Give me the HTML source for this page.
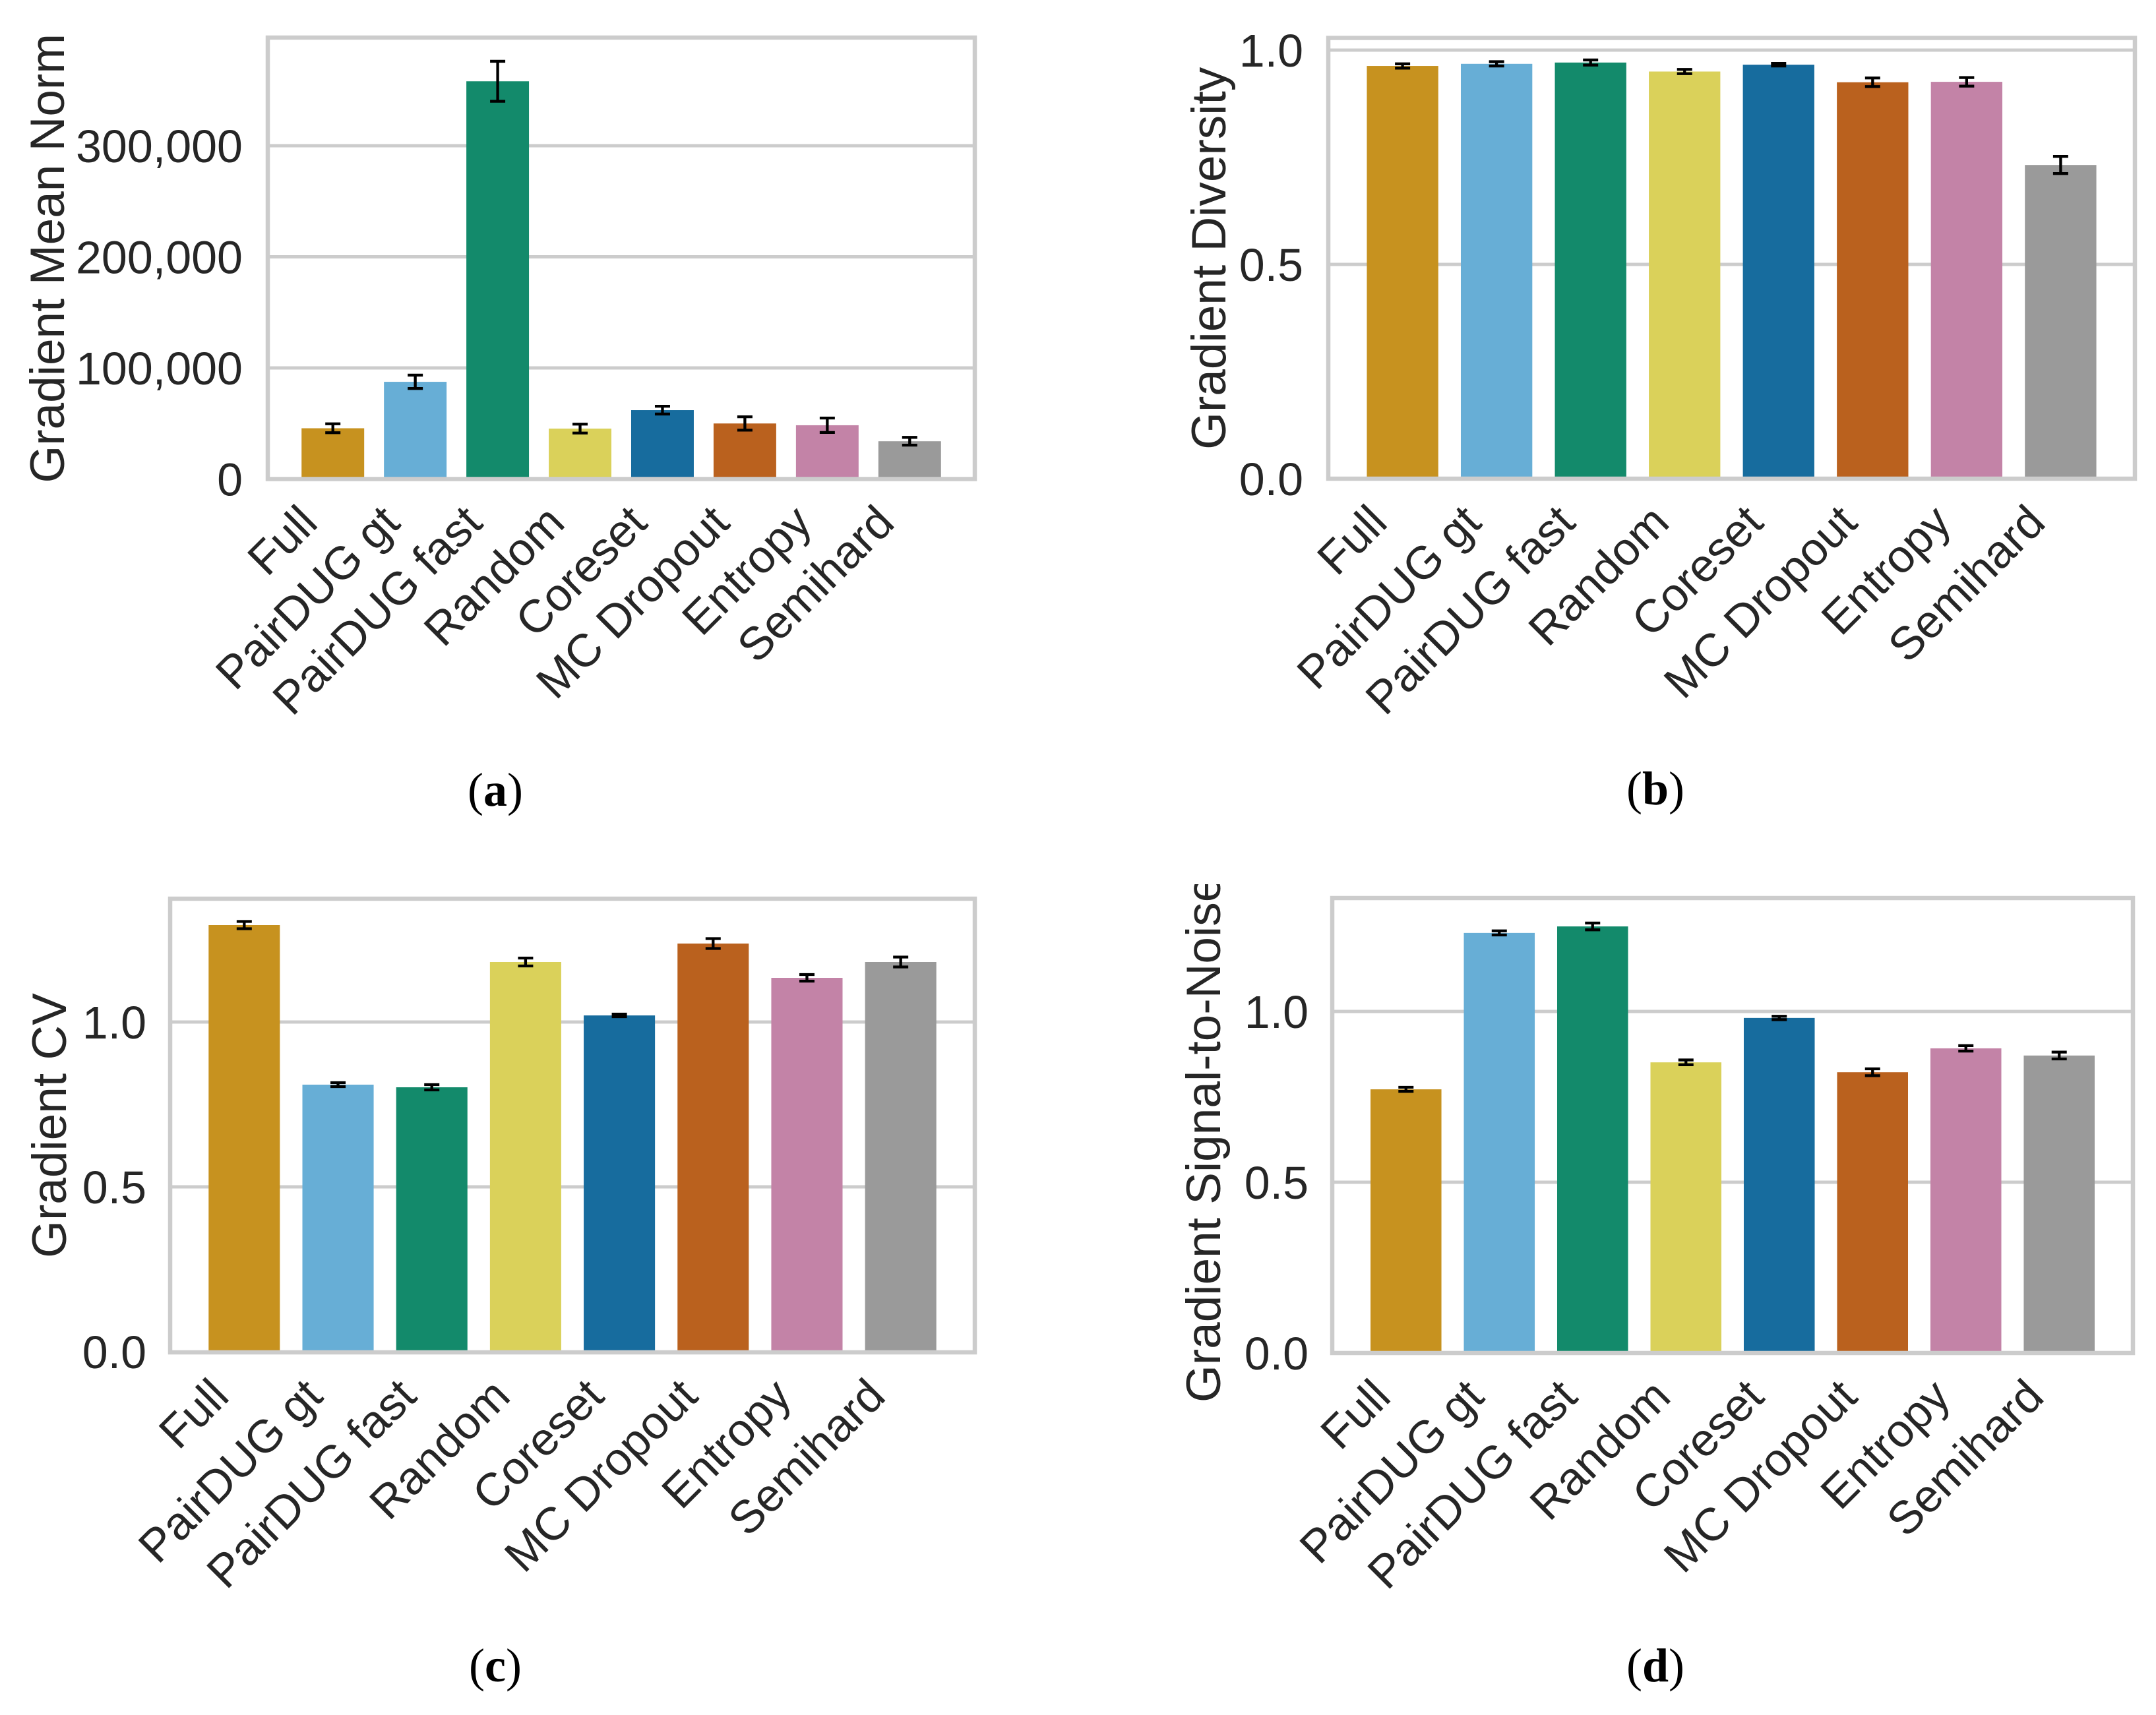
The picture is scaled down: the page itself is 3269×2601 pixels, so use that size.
<!DOCTYPE html>
<html><head><meta charset="utf-8"><style>
html,body{margin:0;padding:0;background:#fff}
svg{display:block}
text{font-family:"Liberation Sans",Arial,sans-serif;fill:#262626}
</style></head><body>
<svg id="fig" width="3269" height="2601" viewBox="0 0 3269 2601" xmlns="http://www.w3.org/2000/svg">
<defs><clipPath id="clipD"><rect x="1700" y="1341" width="400" height="1260"/></clipPath></defs>
</svg>
<script>
const categories = ["Full","PairDUG gt","PairDUG fast","Random","Coreset","MC Dropout","Entropy","Semihard"];
const colors = ["#C7921F","#67AED6","#138A6B","#DAD15A","#176C9E","#BA611E","#C383A7","#9A9A9A"];

const meanNormValues = [45700, 87500, 358000, 45400, 62000, 50000, 48400, 34000];
const meanNormErrors = [4000, 6000, 18000, 4000, 3500, 6000, 6500, 3500];
const meanNormTicks = [0, 100000, 200000, 300000];
const meanNormTickLabels = ["0","100,000","200,000","300,000"];

const diversityValues = [0.963, 0.968, 0.971, 0.950, 0.966, 0.925, 0.926, 0.732];
const diversityErrors = [0.005, 0.005, 0.006, 0.005, 0.003, 0.01, 0.01, 0.02];
const diversityTicks = [0, 0.5, 1.0];
const diversityTickLabels = ["0.0","0.5","1.0"];

const cvValues = [1.294, 0.810, 0.802, 1.182, 1.020, 1.238, 1.134, 1.182];
const cvErrors = [0.011, 0.006, 0.008, 0.012, 0.004, 0.015, 0.01, 0.015];
const cvTicks = [0, 0.5, 1.0];
const cvTickLabels = ["0.0","0.5","1.0"];

const snrValues = [0.772, 1.230, 1.249, 0.851, 0.981, 0.822, 0.892, 0.871];
const snrErrors = [0.006, 0.006, 0.01, 0.007, 0.005, 0.01, 0.008, 0.01];
const snrTicks = [0, 0.5, 1.0];
const snrTickLabels = ["0.0","0.5","1.0"];

const NS = "http://www.w3.org/2000/svg";
const svg = document.getElementById('fig');
function mk(tag, attrs, parent){
  const e = document.createElementNS(NS, tag);
  for (const k in attrs) e.setAttribute(k, attrs[k]);
  (parent||svg).appendChild(e); return e;
}

function panel(cfg){
  const g = mk('g', {});
  
  
  const W = cfg.R - cfg.L;
  const step = W / 8.58;
  const pad = (W - 8*step)/2;
  const xc = i => cfg.L + pad + step*(i+0.5);
  const ys = v => cfg.y0 - (v - 0) * cfg.ppu;
  cfg.ticks.forEach((t,i)=>{
    if (t === 0) return;
    const l = mk('line',{x1:cfg.L,x2:cfg.R,y1:ys(t),y2:ys(t),stroke:'#cccccc','stroke-width':5},g);
    
    
  });
  cfg.ticks.forEach((t,i)=>{
    const tx = mk('text',{x:cfg.tickX,y:ys(t)+25,'font-size':70,'text-anchor':'end'},g);
    tx.textContent = cfg.tickLabels[i];
    
    
  });
  const bw = step*0.76;
  cfg.values.forEach((v,i)=>{
    const r = mk('rect',{x:xc(i)-bw/2,y:ys(v),width:bw,height:ys(0)-ys(v),fill:colors[i]},g);
    
    
  });
  cfg.values.forEach((v,i)=>{
    const e = cfg.errors[i], cx = xc(i);
    const eg = mk('g',{stroke:'#000','stroke-width':4.3},g);
    
    
    mk('line',{x1:cx,x2:cx,y1:ys(v+e),y2:ys(v-e)},eg);
    mk('line',{x1:cx-11.5,x2:cx+11.5,y1:ys(v+e),y2:ys(v+e)},eg);
    mk('line',{x1:cx-11.5,x2:cx+11.5,y1:ys(v-e),y2:ys(v-e)},eg);
  });
  const f = mk('rect',{x:cfg.L,y:cfg.T,width:W,height:cfg.B-cfg.T,fill:'none',stroke:'#cccccc','stroke-width':6.5},g);
  
  
  categories.forEach((c,i)=>{
    const ex = xc(i) - 20, ey = cfg.B + 70;
    const t = mk('text',{x:ex,y:ey,'font-size':70,'text-anchor':'end',transform:`rotate(-45 ${ex} ${ey})`},g);
    t.textContent = c;
    
    
  });
  const cy = cfg.labelY !== undefined ? cfg.labelY : (cfg.T + cfg.B)/2;
  let parent = g;
  if (cfg.clip) {
    parent = mk('g',{'clip-path':'url(#clipD)'},g);
    
    
  }
  const yl = mk('text',{x:cfg.labelX,y:cy,'font-size':73,'text-anchor':cfg.labelAnchor||'middle',transform:`rotate(-90 ${cfg.labelX} ${cy})`},parent);
  yl.textContent = cfg.ylabel;
  
  
  const cap = mk('text',{x:cfg.capX,y:cfg.capY,'font-size':72,'text-anchor':'middle',style:'font-family:"Liberation Serif",serif;fill:#000'},g);
  cap.innerHTML = '(<tspan font-weight="bold">' + cfg.cap + '</tspan>)';
  
  
}

panel({name:'panel-a-mean-norm',L:406,R:1478,T:57,B:726.5,y0:726.5,ppu:168.5/100000,
  ticks:meanNormTicks,tickLabels:meanNormTickLabels,values:meanNormValues,errors:meanNormErrors,
  tickX:368,labelX:97,ylabel:'Gradient Mean Norm',cap:'a',capX:751,capY:1222});
panel({name:'panel-b-diversity',L:2014,R:3237,T:57.5,B:726,y0:726,ppu:650,
  ticks:diversityTicks,tickLabels:diversityTickLabels,values:diversityValues,errors:diversityErrors,
  tickX:1976,labelX:1858,ylabel:'Gradient Diversity',cap:'b',capX:2510,capY:1220});
panel({name:'panel-c-cv',L:258,R:1478,T:1363,B:2051,y0:2050,ppu:500,
  ticks:cvTicks,tickLabels:cvTickLabels,values:cvValues,errors:cvErrors,
  tickX:222,labelX:100,ylabel:'Gradient CV',cap:'c',capX:751,capY:2550});
panel({name:'panel-d-snr',L:2020,R:3234,T:1362,B:2052,y0:2052,ppu:518,
  ticks:snrTicks,tickLabels:snrTickLabels,values:snrValues,errors:snrErrors,
  tickX:1984,labelX:1850,labelY:2127,labelAnchor:'start',ylabel:'Gradient Signal-to-Noise Ratio',clip:true,cap:'d',capX:2510,capY:2550});
</script>
</body></html>
